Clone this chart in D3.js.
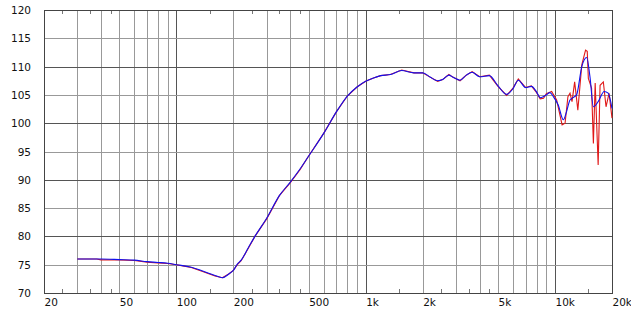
<!DOCTYPE html>
<html>
  <head>
    <meta charset="utf-8">
    <title>Frequency response</title>
    <script src="https://cdn.jsdelivr.net/npm/d3@7"></script>
    <style>
      body { margin: 0; background: #fff; }
      text { font-family: "DejaVu Sans", Verdana, sans-serif; font-size: 10.5px; fill: #111; }
    </style>
  </head>
  <body>
    <script type="text/javascript">
      var w = 631
      var h = 310

      // blue (smoothed) curve
      var blueFreq = [30, 40, 50, 60, 70, 80, 90, 100, 120, 140, 160, 175, 190, 200, 210, 220, 240, 260,
        300, 350, 400, 450, 500, 600, 700, 800, 900, 1000, 1100, 1200, 1350, 1550, 1800, 2000, 2200,
        2400, 2550, 2750, 2900, 3150, 3400, 3650, 4000, 4500, 5000, 5550, 6000, 6400, 7000, 7500,
        8000, 8350, 9000, 9400, 9800, 10400, 11070, 11500, 12000, 13000, 13850, 14700, 15300,
        15950, 16900, 18200, 19100, 20000]
      var blueDb = [76.0, 76.0, 75.9, 75.8, 75.55, 75.4, 75.25, 75.0, 74.55, 73.8, 73.1, 72.7, 73.4, 74.0,
        75.1, 75.8, 78.0, 80.0, 83.2, 87.2, 89.6, 91.9, 94.2, 98.2, 102.0, 104.8, 106.4, 107.4, 108.0,
        108.4, 108.6, 109.3, 108.9, 108.9, 108.1, 107.5, 107.7, 108.5, 108.1, 107.6, 108.5, 109.0,
        108.2, 108.4, 106.6, 105.1, 106.1, 107.6, 106.3, 106.5, 105.5, 104.5, 105.0, 105.4, 104.7,
        103.2, 100.6, 102.0, 104.1, 105.0, 110.0, 111.6, 108.2, 102.9, 103.8, 105.6, 105.3, 102.6]

      // red (raw) curve
      var redFreq = [30, 38, 40, 45, 50, 60, 70, 80, 90, 100, 110, 120, 140, 160, 175, 190, 200, 210, 220,
        240, 260, 300, 350, 400, 450, 500, 600, 700, 800, 900, 1000, 1100, 1200, 1350, 1550, 1800,
        2000, 2200, 2400, 2550, 2750, 2900, 3150, 3400, 3650, 4000, 4500, 5000, 5550, 6000, 6400,
        7000, 7500, 8000, 8350, 8700, 9000, 9600, 10200, 10900, 11300, 11700, 12000, 12300, 12700,
        13200, 13500, 13850, 14500, 14800, 15000, 15600, 15950, 16300, 16900, 17300, 18000, 18600,
        19300, 20000]
      var redDb = [76.0, 76.0, 75.85, 75.85, 75.85, 75.75, 75.45, 75.3, 75.2, 75.0, 74.75, 74.5, 73.7,
        73.0, 72.7, 73.4, 74.0, 75.0, 75.7, 77.9, 80.0, 83.1, 87.2, 89.5, 91.8, 94.2, 98.2, 102.0,
        104.8, 106.4, 107.4, 108.0, 108.4, 108.6, 109.4, 108.9, 108.9, 108.1, 107.4, 107.7, 108.6,
        108.1, 107.5, 108.5, 109.1, 108.2, 108.5, 106.5, 104.9, 106.2, 107.8, 106.3, 106.6, 105.4,
        104.3, 104.4, 105.2, 105.6, 104.1, 99.7, 100.0, 104.7, 105.3, 103.8, 107.3, 102.3, 106.0,
        110.3, 112.9, 112.7, 107.9, 106.2, 96.4, 107.1, 92.6, 106.7, 107.3, 102.9, 105.3, 100.9]

      var yTicks = [70, 75, 80, 85, 90, 95, 100, 105, 110, 115, 120]
      var xGrid = [30, 40, 50, 60, 70, 80, 90, 100, 200, 300, 400, 500, 600, 700, 800, 900,
        1000, 2000, 3000, 4000, 5000, 6000, 7000, 8000, 9000, 10000]
      var xMinor = [25, 35, 45, 150, 250, 350, 450, 1500, 2500, 3500, 4500, 15000]
      var xLabels = [20, 50, 100, 200, 500, 1000, 2000, 5000, 10000, 20000]
      var xLabelText = ["20", "50", "100", "200", "500", "1k", "2k", "5k", "10k", "20k"]

      var svg = d3.select("body").append("svg")
      svg.attr("width", w)
         .attr("height", h)

      var x = d3.scaleLog().domain([20, 20000]).range([44, 612])
      var y = d3.scaleLinear().domain([70, 120]).range([293, 10])
      var px = function(v) { return Math.round(v) + 0.5 }

      var isMajorX = function(f) { return f == 100 || f == 1000 || f == 10000 }

      // vertical grid
      svg.selectAll(".vgrid")
         .data(xGrid)
         .enter()
         .append("line")
         .attr("x1", function(d) { return px(x(d)) })
         .attr("x2", function(d) { return px(x(d)) })
         .attr("y1", y(120))
         .attr("y2", y(70))
         .attr("stroke", function(d) { return isMajorX(d) ? "#555" : "#999" })
         .attr("stroke-width", 1)

      // horizontal grid
      svg.selectAll(".hgrid")
         .data(yTicks.slice(1, -1))
         .enter()
         .append("line")
         .attr("x1", x(20))
         .attr("x2", x(20000))
         .attr("y1", function(d) { return px(y(d)) })
         .attr("y2", function(d) { return px(y(d)) })
         .attr("stroke", function(d) { return d % 10 == 0 ? "#555" : "#999" })
         .attr("stroke-width", 1)

      // small ticks top and bottom
      xMinor.forEach(function(f) {
        svg.append("line")
           .attr("x1", px(x(f))).attr("x2", px(x(f)))
           .attr("y1", y(70) - 4).attr("y2", y(70))
           .attr("stroke", "#777")
        svg.append("line")
           .attr("x1", px(x(f))).attr("x2", px(x(f)))
           .attr("y1", y(120)).attr("y2", y(120) + 4)
           .attr("stroke", "#777")
      })

      // frame
      svg.append("rect")
         .attr("x", px(x(20)))
         .attr("y", px(y(120)))
         .attr("width", Math.round(x(20000)) - Math.round(x(20)))
         .attr("height", Math.round(y(70)) - Math.round(y(120)))
         .attr("fill", "none")
         .attr("stroke", "#444")

      // curves: raw one straight segments, smoothed one curved
      var rawLine = d3.line()
                      .x(function(d) { return x(d[0]) })
                      .y(function(d) { return y(d[1]) })
      var smoothLine = d3.line()
                         .x(function(d) { return x(d[0]) })
                         .y(function(d) { return y(d[1]) })
                         .curve(d3.curveMonotoneX)

      svg.append("path")
         .datum(d3.zip(redFreq, redDb))
         .attr("d", rawLine)
         .attr("fill", "none")
         .attr("stroke", "#e01818")
         .attr("stroke-width", 1.1)

      svg.append("path")
         .datum(d3.zip(blueFreq, blueDb))
         .attr("d", smoothLine)
         .attr("fill", "none")
         .attr("stroke", "#1010ee")
         .attr("stroke-width", 1.1)

      // y labels
      svg.selectAll(".ylab")
         .data(yTicks)
         .enter()
         .append("text")
         .attr("x", 31)
         .attr("y", function(d) { return y(d) + 4 })
         .attr("text-anchor", "end")
         .text(function(d) { return d })

      // x labels
      svg.selectAll(".xlab")
         .data(xLabels)
         .enter()
         .append("text")
         .attr("x", function(d) { return x(d) + 0.5 })
         .attr("y", 306)
         .text(function(d, i) { return xLabelText[i] })
    </script>
  </body>
</html>
